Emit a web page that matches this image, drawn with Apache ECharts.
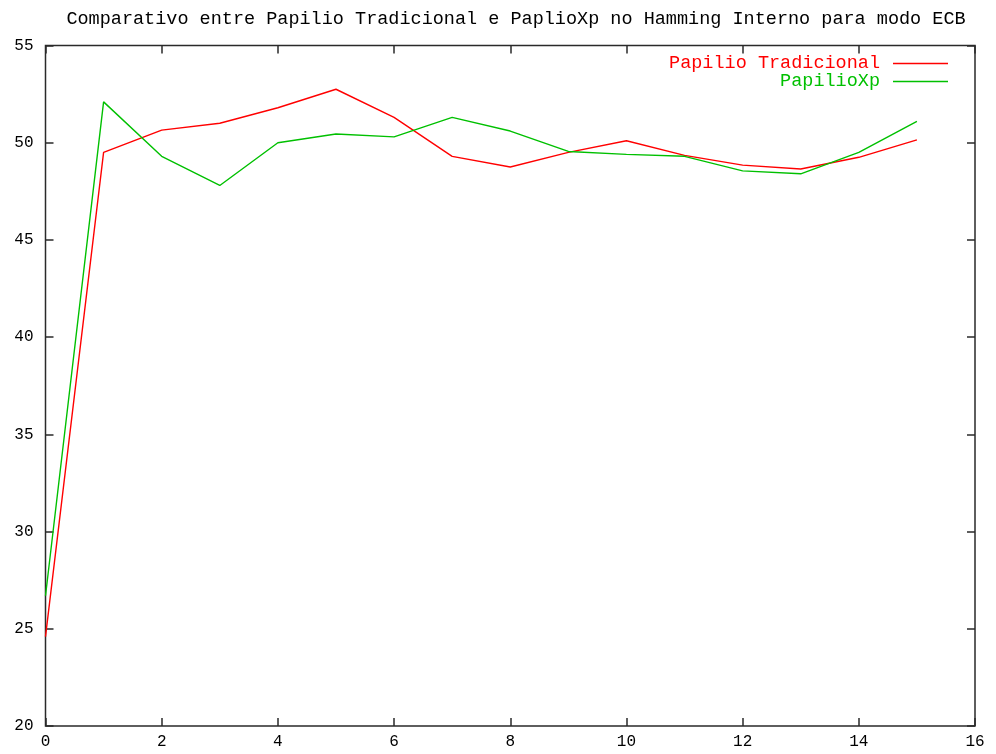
<!DOCTYPE html>
<html>
<head>
<meta charset="utf-8">
<script src="https://cdn.jsdelivr.net/npm/echarts@6/dist/echarts.min.js"></script>
<style>
  html, body { margin: 0; padding: 0; background: #fff; }
  #chart { width: 996px; height: 754px; }
</style>
</head>
<body>
<div id="chart"></div>
<script>
const titleText = 'Comparativo entre Papilio Tradicional e PaplioXp no Hamming Interno para modo ECB'
const xValues = [0, 1, 2, 3, 4, 5, 6, 7, 8, 9, 10, 11, 12, 13, 14, 15]
const tradicional = [24.6, 49.5, 50.65, 51.0, 51.8, 52.75, 51.3, 49.3, 48.75, 49.5, 50.1, 49.35, 48.85, 48.65, 49.25, 50.15]
const papilioXp = [26.7, 52.1, 49.3, 47.8, 50.0, 50.45, 50.3, 51.3, 50.6, 49.55, 49.4, 49.3, 48.55, 48.4, 49.5, 51.1]

const mono = 'Liberation Mono, DejaVu Sans Mono, monospace'
const frame = '#2a2a2a'

const chart = echarts.init(document.getElementById('chart'))

const pairs = arr => xValues.map((x, i) => [x, arr[i]])

const tick = { show: true, inside: true, length: 8, lineStyle: { color: frame, width: 1.5 } }

const mirrorAxis = (pos) => ({
  position: pos,
  axisLine: { show: false, onZero: false },
  axisTick: tick,
  axisLabel: { show: false },
  splitLine: { show: false }
})

const option = {
  backgroundColor: '#fff',
  animation: false,
  title: {
    text: titleText,
    left: 511,
    textAlign: 'center',
    top: 5,
    textStyle: { fontFamily: mono, fontSize: 18.5, fontWeight: 'normal', color: '#000' }
  },
  legend: {
    orient: 'vertical',
    right: 43,
    top: 49,
    align: 'right',
    itemWidth: 55,
    itemHeight: 14,
    itemGap: -1,
    icon: 'path://M0,7L55,7L55,8.3L0,8.3Z',
    textStyle: { fontFamily: mono, fontSize: 18.5, padding: [0, 8, 0, 0] },
    data: [
      { name: 'Papilio Tradicional', textStyle: { color: '#ff0000' } },
      { name: 'PapilioXp', textStyle: { color: '#00c000' } }
    ]
  },
  grid: {
    left: 45.5, right: 21, top: 45.5, bottom: 28,
    show: true, borderColor: frame, borderWidth: 1.5
  },
  xAxis: [
    {
      type: 'value', min: 0, max: 16, interval: 2,
      axisLine: { show: false, onZero: false },
      axisTick: tick,
      axisLabel: { fontFamily: mono, fontSize: 16, color: '#000', margin: 8 },
      splitLine: { show: false }
    },
    Object.assign({ type: 'value', min: 0, max: 16, interval: 2 }, mirrorAxis('top'))
  ],
  yAxis: [
    {
      type: 'value', min: 20, max: 55, interval: 5,
      axisLine: { show: false, onZero: false },
      axisTick: tick,
      axisLabel: { fontFamily: mono, fontSize: 16, color: '#000', margin: 12 },
      splitLine: { show: false }
    },
    Object.assign({ type: 'value', min: 20, max: 55, interval: 5 }, mirrorAxis('right'))
  ],
  series: [
    {
      name: 'Papilio Tradicional',
      type: 'line',
      data: pairs(tradicional),
      symbol: 'none',
      color: '#ff0000',
      lineStyle: { width: 1.4, color: '#ff0000' }
    },
    {
      name: 'PapilioXp',
      type: 'line',
      data: pairs(papilioXp),
      symbol: 'none',
      color: '#00c000',
      lineStyle: { width: 1.4, color: '#00c000' }
    }
  ]
}

chart.setOption(option)
</script>
</body>
</html>
